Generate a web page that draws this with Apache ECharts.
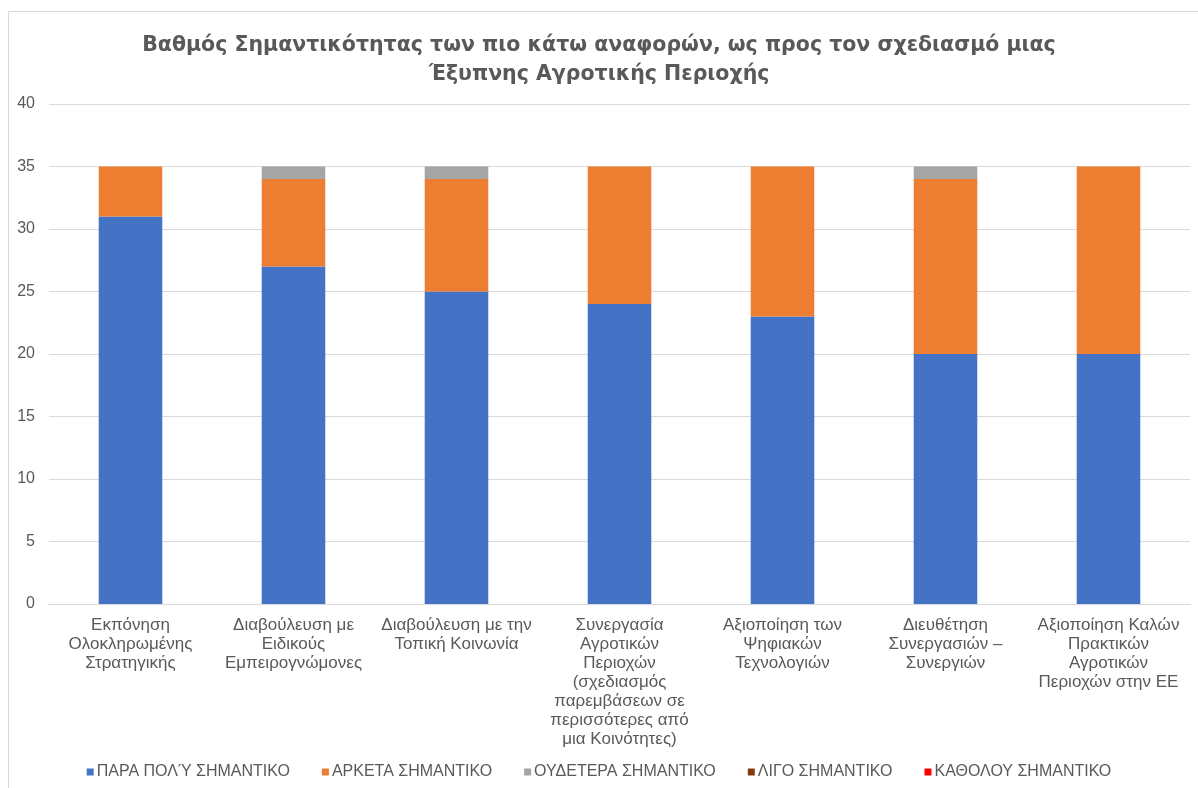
<!DOCTYPE html>
<html><head><meta charset="utf-8">
<script src="https://cdn.jsdelivr.net/npm/echarts@6/dist/echarts.min.js"></script>
<style>
html,body{margin:0;padding:0;background:#fff;width:1198px;height:788px;overflow:hidden}
#frame{position:absolute;left:8px;top:11px;width:1200px;height:790px;border-left:1px solid #d9d9d9;border-top:1px solid #d9d9d9}
#chart{position:absolute;left:0;top:0;width:1198px;height:788px}
</style></head><body>
<div id="frame"></div>
<div id="chart"></div>
<script>
var titleText = 'Βαθμός Σημαντικότητας των πιο κάτω αναφορών, ως προς τον σχεδιασμό μιας\nΈξυπνης Αγροτικής Περιοχής';
var categories = [
  'Εκπόνηση\nΟλοκληρωμένης\nΣτρατηγικής',
  'Διαβούλευση με\nΕιδικούς\nΕμπειρογνώμονες',
  'Διαβούλευση με την\nΤοπική Κοινωνία',
  'Συνεργασία\nΑγροτικών\nΠεριοχών\n(σχεδιασμός\nπαρεμβάσεων σε\nπερισσότερες από\nμια Κοινότητες)',
  'Αξιοποίηση των\nΨηφιακών\nΤεχνολογιών',
  'Διευθέτηση\nΣυνεργασιών –\nΣυνεργιών',
  'Αξιοποίηση Καλών\nΠρακτικών\nΑγροτικών\nΠεριοχών στην ΕΕ'
];
var seriesNames = ['ΠΑΡΑ ΠΟΛΎ ΣΗΜΑΝΤΙΚΟ','ΑΡΚΕΤΑ ΣΗΜΑΝΤΙΚΟ','ΟΥΔΕΤΕΡΑ ΣΗΜΑΝΤΙΚΟ','ΛΙΓΟ ΣΗΜΑΝΤΙΚΟ','ΚΑΘΟΛΟΥ ΣΗΜΑΝΤΙΚΟ'];
var veryImportant = [31, 27, 25, 24, 23, 20, 20];
var quiteImportant = [4, 7, 9, 11, 12, 14, 15];
var neutral = [0, 1, 1, 0, 0, 1, 0];
var littleImportant = [0, 0, 0, 0, 0, 0, 0];
var notImportant = [0, 0, 0, 0, 0, 0, 0];
var colors = ['#4472c4','#ed7d31','#a5a5a5','#843c0c','#ff0000'];
var yTicks = {min:0, max:40, interval:5};

var allData = [veryImportant, quiteImportant, neutral, littleImportant, notImportant];
var chart = echarts.init(document.getElementById('chart'));
chart.setOption({
  animation:false,
  color: colors,
  title:{
    text:titleText, left:'center', top:26,
    textStyle:{fontFamily:'DejaVu Sans', fontWeight:'bold', fontSize:20.5, color:'#595959', lineHeight:29}
  },
  legend:{
    bottom:3, left:'center', itemWidth:7, itemHeight:7, itemGap:32, icon:'rect',
    textStyle:{fontFamily:'Liberation Sans', fontSize:16, color:'#595959', padding:[0,0,0,-2]},
    data: seriesNames
  },
  grid:{left:49, right:8, top:104, bottom:184, containLabel:false},
  xAxis:{
    type:'category', data:categories,
    axisTick:{show:false},
    axisLine:{lineStyle:{color:'#d9d9d9'}},
    axisLabel:{interval:0, margin:12, fontFamily:'Liberation Sans', fontSize:17, color:'#595959', lineHeight:19}
  },
  yAxis:{
    type:'value', min:yTicks.min, max:yTicks.max, interval:yTicks.interval,
    axisLine:{show:false}, axisTick:{show:false},
    splitLine:{lineStyle:{color:'#d9d9d9', width:1}},
    axisLabel:{margin:14, fontFamily:'Liberation Sans', fontSize:16, color:'#595959'}
  },
  series: seriesNames.map(function(n,i){
    return {name:n, type:'bar', stack:'total', barWidth:'39%', data:allData[i], itemStyle:{color:colors[i]}};
  })
});
</script></body></html>
